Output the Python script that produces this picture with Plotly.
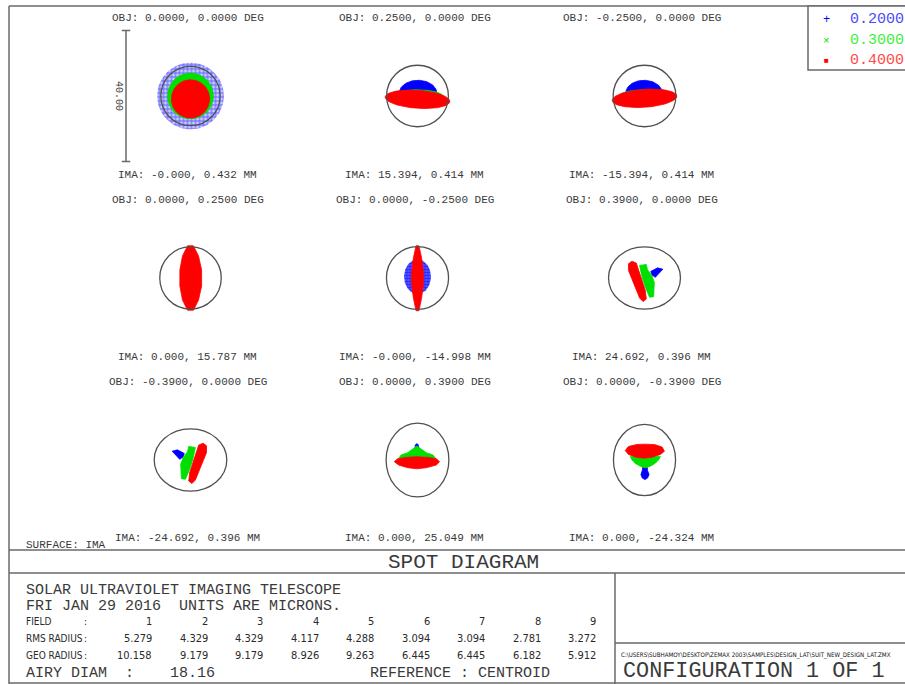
import numpy as np
import plotly.graph_objects as go

# ---------------------------------------------------------------- data
FIELD_IDS = [1, 2, 3, 4, 5, 6, 7, 8, 9]
OBJ_X_DEG = [0.0, 0.25, -0.25, 0.0, 0.0, 0.39, -0.39, 0.0, 0.0]
OBJ_Y_DEG = [0.0, 0.0, 0.0, 0.25, -0.25, 0.0, 0.0, 0.39, -0.39]
IMA_X_MM = [-0.0, 15.394, -15.394, 0.0, -0.0, 24.692, -24.692, 0.0, 0.0]
IMA_Y_MM = [0.432, 0.414, 0.414, 15.787, -14.998, 0.396, 0.396, 25.049, -24.324]
RMS_RADIUS = [5.279, 4.329, 4.329, 4.117, 4.288, 3.094, 3.094, 2.781, 3.272]
GEO_RADIUS = [10.158, 9.179, 9.179, 8.926, 9.263, 6.445, 6.445, 6.182, 5.912]
AIRY_DIAM = 18.16
# Airy disc semi-axes per field (microns)
AIRY_SEMI_X = [9.08, 9.45, 9.6, 9.4, 9.5, 11.0, 11.1, 9.6, 9.5]
AIRY_SEMI_Y = [9.08, 9.4, 9.4, 9.5, 9.6, 9.5, 9.5, 11.3, 10.9]
WAVELENGTHS = ["0.2000", "0.3000", "0.4000"]
SCALE_BAR_UM = 40.0

# Spot footprints in microns relative to the centroid.
# ("ell", cx, cy, semi_a, semi_b, tilt_deg) or ("poly", xs, ys)
SPOTS_BLUE = [
    [("ell", 0.0, 0.0, 10.2, 10.2, 0)],
    [("ell", 0.15, 0.9, 5.75, 3.9, 0)],
    [("ell", -0.15, 0.9, 5.6, 3.9, 0)],
    [("ell", 0.0, 0.0, 1.5, 6.0, 0)],
    [("ell", 0.0, 0.4, 4.1, 5.3, 0)],
    [("poly", [1.9, 4.0, 5.6, 4.4, 3.3, 2.3], [2.0, 3.1, 2.7, 1.4, 0.2, 0.9])],
    [("poly", [-1.9, -4.0, -5.6, -4.4, -3.3, -2.3], [2.0, 3.1, 2.7, 1.4, 0.2, 0.9])],
    [("ell", -0.2, 4.1, 0.55, 0.9, 0)],
    [("poly", [-0.45, 0.75, 0.95, 1.4, 0.95, 0.15, -0.7, -1.1, -0.7],
      [-1.7, -1.7, -3.25, -4.45, -5.5, -6.0, -5.5, -4.45, -3.25])],
]
SPOTS_GREEN = [
    [("ell", 0.0, 0.0, 7.0, 7.0, 0)],
    [("ell", 0.0, -0.3, 8.0, 2.2, 0)],
    [("ell", 0.0, -0.3, 8.0, 2.2, 0)],
    [("ell", 0.0, 0.0, 2.0, 8.0, 0)],
    [("ell", 0.0, 0.0, 1.5, 7.0, 0)],
    [("poly", [-1.5, 0.55, 0.9, 2.3, 3.0, 2.8, 1.55, 0.25, -0.75],
      [3.85, 4.15, 2.6, 0.6, -1.3, -5.7, -5.9, -2.85, 0.25])],
    [("poly", [1.5, -0.55, -0.9, -2.3, -3.0, -2.8, -1.55, -0.25, 0.75],
      [3.85, 4.15, 2.6, 0.6, -1.3, -5.7, -5.9, -2.85, 0.25])],
    [("poly", [-5.75, -5.0, -3.0, -1.25, -0.2, 0.8, 2.7, 4.7, 5.55, -0.2],
      [0.5, 1.55, 2.25, 3.6, 4.3, 3.6, 2.25, 1.55, 0.5, 0.2])],
    [("poly", [-4.35, 4.85, 4.35, 3.3, 1.8, 0.25, -1.3, -2.85, -3.85],
      [1.1, 1.1, 0.05, -1.0, -1.9, -2.4, -1.9, -1.0, 0.05])],
]
SPOTS_RED = [
    [("ell", 0.0, -0.9, 5.85, 5.85, 0)],
    [("ell", 0.0, -1.0, 9.9, 2.75, -4)],
    [("ell", 0.0, -0.7, 9.9, 2.75, 4)],
    [("poly", [-0.9, 0.9, 2.45, 3.4, 3.4, 2.45, 0.9, -0.9, -2.45, -3.25, -3.25, -2.45],
      [9.85, 9.85, 6.75, 2.45, -2.45, -6.75, -9.85, -9.85, -6.75, -2.45, 2.45, 6.75])],
    [("poly", [-0.45, 0.45, 1.25, 1.8, 1.8, 1.25, 0.45, -0.45, -1.25, -1.8, -1.8, -1.25],
      [9.85, 9.85, 6.15, 1.85, -1.85, -6.15, -10.0, -10.0, -6.15, -1.85, 1.85, 6.15])],
    [("poly", [-4.9, -3.85, -2.5, -1.3, 0.25, 0.55, -0.45, -1.5, -3.35, -4.9],
      [4.35, 5.15, 4.55, 0.75, -3.85, -6.4, -7.2, -6.1, -1.3, 2.3])],
    [("poly", [4.9, 3.85, 2.5, 1.3, -0.25, -0.55, 0.45, 1.5, 3.35, 4.9],
      [4.35, 5.15, 4.55, 0.75, -3.85, -6.4, -7.2, -6.1, -1.3, 2.3])],
    [("poly", [-7.1, -6.05, -3.5, -0.2, 3.2, 5.75, 6.75, 5.75, 2.7, -0.2, -3.0, -5.75],
      [-0.5, 0.4, 0.8, 1.0, 0.8, 0.4, -0.5, -1.55, -2.35, -2.7, -2.35, -1.55])],
    [("poly", [-5.9, -4.9, -2.3, 0.25, 3.3, 5.4, 6.1, 4.85, 2.3, -0.05, -2.5, -4.9],
      [2.9, 4.15, 4.75, 4.85, 4.7, 3.95, 2.7, 1.7, 0.85, 0.55, 0.85, 1.7])],
]

# ---------------------------------------------------------------- layout constants
W, H = 905, 684
PX_PER_UM = 3.27
COL_CX = [190.5, 417.5, 644.5]
ROW_CY = [96.0, 278.0, 460.0]
OBJ_ROW_Y = [18.5, 200.0, 381.5]
IMA_ROW_Y = [175.0, 356.5, 538.0]
HALF_W, HALF_H = 105, 85

WAVE_COLORS = ["#0000ff", "#00e000", "#ff0000"]
LEGEND_TEXT_COLORS = ["#4848ff", "#3cf03c", "#ff4848"]
INK = "#3a3a3a"
TABLE_INK = "#2a2a2a"
FRAME = "#6a6a6a"
MONO = "Liberation Mono, DejaVu Sans Mono, monospace"
NARROW = "Liberation Sans Narrow, DejaVu Sans Condensed, Arial Narrow, sans-serif"
# (field index, wavelength index) of ray sets drawn as a lattice of crosses
CROSS_HATCHED = {(0, 0): (4, 0.5, "rgba(110,110,255,0.35)"),
                 (4, 0): (3, 0.55, "rgba(30,30,255,0.75)")}


def px(x):
    return x / W


def py(y):
    return 1 - y / H


def blob_outline(blob):
    if blob[0] == "ell":
        _, cx, cy, a, b, tilt = blob
        t = np.linspace(0, 2 * np.pi, 97)
        th = np.deg2rad(tilt)
        xs = cx + a * np.cos(t) * np.cos(th) - b * np.sin(t) * np.sin(th)
        ys = cy + a * np.cos(t) * np.sin(th) + b * np.sin(t) * np.cos(th)
        return list(xs), list(ys)
    _, xs, ys = blob
    return list(xs) + [xs[0]], list(ys) + [ys[0]]


fig = go.Figure()
shapes = []
annotations = []

for i, fid in enumerate(FIELD_IDS):
    r, c = divmod(i, 3)
    cx, cy = COL_CX[c], ROW_CY[r]
    n = "" if i == 0 else str(i + 1)
    xa, ya = "x" + n, "y" + n
    fig.layout["xaxis" + n] = dict(
        domain=[px(cx - HALF_W), px(cx + HALF_W)],
        range=[-HALF_W / PX_PER_UM, HALF_W / PX_PER_UM],
        visible=False, fixedrange=True, anchor=ya,
    )
    fig.layout["yaxis" + n] = dict(
        domain=[py(cy + HALF_H), py(cy - HALF_H)],
        range=[-HALF_H / PX_PER_UM, HALF_H / PX_PER_UM],
        visible=False, fixedrange=True, anchor=xa,
    )

    for w, spots in enumerate([SPOTS_BLUE, SPOTS_GREEN, SPOTS_RED]):
        for blob in spots[i]:
            xs, ys = blob_outline(blob)
            trace = dict(
                x=xs, y=ys, xaxis=xa, yaxis=ya, mode="lines", fill="toself",
                hoverinfo="skip", showlegend=False,
            )
            if (i, w) in CROSS_HATCHED:
                size, solidity, bg = CROSS_HATCHED[(i, w)]
                trace.update(
                    line=dict(width=0, color=WAVE_COLORS[w]),
                    fillcolor="rgba(0,0,0,0)",
                    fillpattern=dict(shape="+", fgcolor=WAVE_COLORS[w], bgcolor=bg,
                                     size=size, solidity=solidity),
                )
            else:
                trace.update(line=dict(width=0.8, color=WAVE_COLORS[w]),
                             fillcolor=WAVE_COLORS[w])
            fig.add_trace(go.Scatter(**trace))

    # Airy disc
    shapes.append(dict(
        type="circle", xref=xa, yref=ya,
        x0=-AIRY_SEMI_X[i], x1=AIRY_SEMI_X[i], y0=-AIRY_SEMI_Y[i], y1=AIRY_SEMI_Y[i],
        line=dict(color="#505050", width=1.3), layer="above",
    ))

    lx = cx - 3
    annotations.append(dict(
        text=f"OBJ: {OBJ_X_DEG[i]:.4f}, {OBJ_Y_DEG[i]:.4f} DEG",
        x=px(lx), y=py(OBJ_ROW_Y[r]), xref="paper", yref="paper",
        xanchor="center", yanchor="middle", showarrow=False,
        font=dict(family=MONO, size=11, color=INK),
    ))
    annotations.append(dict(
        text=f"IMA: {IMA_X_MM[i]:.3f}, {IMA_Y_MM[i]:.3f} MM",
        x=px(lx), y=py(IMA_ROW_Y[r]), xref="paper", yref="paper",
        xanchor="center", yanchor="middle", showarrow=False,
        font=dict(family=MONO, size=11, color=INK),
    ))

# scale bar in the first panel
bar_x = -64.5 / PX_PER_UM
half_bar = SCALE_BAR_UM / 2
cap = 1.3
shapes.append(dict(type="line", xref="x", yref="y", x0=bar_x, x1=bar_x,
                   y0=-half_bar, y1=half_bar, line=dict(color=FRAME, width=1.5)))
for yy in (-half_bar, half_bar):
    shapes.append(dict(type="line", xref="x", yref="y", x0=bar_x - cap, x1=bar_x + cap,
                       y0=yy, y1=yy, line=dict(color=FRAME, width=1.5)))
annotations.append(dict(
    text=f"{SCALE_BAR_UM:.2f}", x=bar_x, y=0, xref="x", yref="y", xshift=-7,
    textangle=90, showarrow=False, xanchor="center", yanchor="middle",
    font=dict(family=MONO, size=10, color=INK),
))


# frame lines
def hline(y, x0, x1):
    shapes.append(dict(type="line", xref="paper", yref="paper", x0=px(x0), x1=px(x1),
                       y0=py(y), y1=py(y), line=dict(color=FRAME, width=1.5)))


def vline(x, y0, y1):
    shapes.append(dict(type="line", xref="paper", yref="paper", x0=px(x), x1=px(x),
                       y0=py(y0), y1=py(y1), line=dict(color=FRAME, width=1.5)))


hline(6, 9, W)
vline(9, 6, H)
hline(550, 9, W)
hline(573, 9, W)
hline(683, 9, W)
vline(615, 573, H)
hline(643, 615, W)


def text(s, x, y, size, family=MONO, color=INK, anchor="left"):
    annotations.append(dict(
        text=s, x=px(x), y=py(y), xref="paper", yref="paper", xanchor=anchor,
        yanchor="middle", showarrow=False, font=dict(family=family, size=size, color=color),
    ))


# wavelength key (upper right)
shapes.append(dict(type="rect", xref="paper", yref="paper",
                   x0=px(808), x1=px(W + 5), y0=py(70), y1=py(6),
                   line=dict(color=FRAME, width=1.5), fillcolor="white", layer="above"))
KEY_ROW_Y = [19.5, 40.5, 61]
KEY_GLYPHS = [("+", 12), ("\u00d7", 11), ("\u25a0", 8)]
for w, label in enumerate(WAVELENGTHS):
    g, gs = KEY_GLYPHS[w]
    text(g, 826, KEY_ROW_Y[w], gs, color=WAVE_COLORS[w], anchor="center")
    text(label, 848, KEY_ROW_Y[w], 15, color=LEGEND_TEXT_COLORS[w])

text("SURFACE: IMA", 24, 545, 11)
text("SPOT DIAGRAM", 463.5, 562, 21, anchor="center")
text("SOLAR ULTRAVIOLET IMAGING TELESCOPE", 24, 590, 15)
text("FRI JAN 29 2016  UNITS ARE MICRONS.", 24, 606, 15)
text("AIRY DIAM  :    " + f"{AIRY_DIAM:.2f}", 24, 673, 15)
text("REFERENCE : CENTROID", 368, 673, 15)

row_labels = [("FIELD", 621.5), ("RMS RADIUS", 638), ("GEO RADIUS", 655)]
for lab, yy in row_labels:
    text(lab, 24, yy, 10, family=NARROW, color=TABLE_INK)
    text(":", 85, yy, 10, family=NARROW, color=TABLE_INK, anchor="center")

COL0_PX, COL_STEP = 154, 55.5
for i in range(len(FIELD_IDS)):
    xr = COL0_PX + COL_STEP * i
    text(str(FIELD_IDS[i]), xr, 621.5, 11, family=NARROW, color=TABLE_INK, anchor="right")
    text(f"{RMS_RADIUS[i]:.3f}", xr, 638, 11, family=NARROW, color=TABLE_INK, anchor="right")
    text(f"{GEO_RADIUS[i]:.3f}", xr, 655, 11, family=NARROW, color=TABLE_INK, anchor="right")

text("C:\\USERS\\SUBHAMOY\\DESKTOP\\ZEMAX 2003\\SAMPLES\\DESIGN_LAT\\SUIT_NEW_DESIGN_LAT.ZMX",
     619, 655, 6.2, family=NARROW, color="#111111")
text("CONFIGURATION 1 OF 1", 621, 671.5, 21.8)

fig.update_layout(
    width=W, height=H, autosize=False,
    margin=dict(l=0, r=0, t=0, b=0, pad=0),
    paper_bgcolor="white", plot_bgcolor="rgba(0,0,0,0)",
    shapes=shapes, annotations=annotations, showlegend=False,
)

fig.write_html("out.html")
